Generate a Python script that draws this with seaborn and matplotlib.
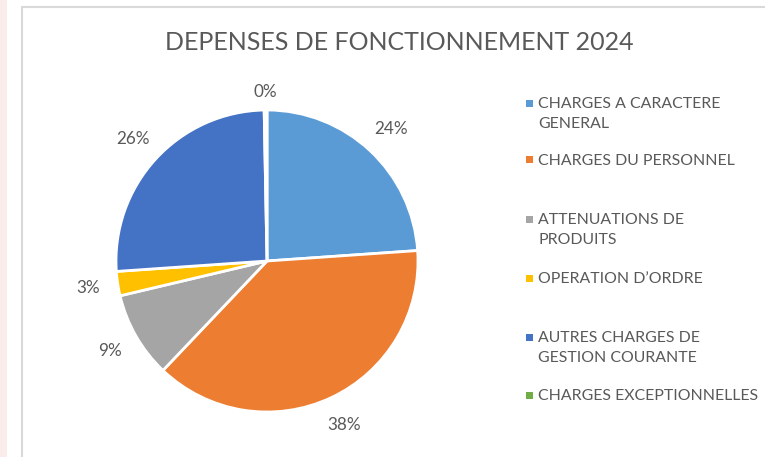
import matplotlib
matplotlib.use("Agg")
import matplotlib.pyplot as plt
import seaborn as sns
from matplotlib.patches import Rectangle

sns.set_theme(style="white")
plt.rcParams['font.family'] = ['Lato', 'DejaVu Sans']

# data (percent of total)
categories = [
    "CHARGES A CARACTERE\nGENERAL",
    "CHARGES DU PERSONNEL",
    "ATTENUATIONS DE\nPRODUITS",
    "OPERATION D\u2019ORDRE",
    "AUTRES CHARGES DE\nGESTION COURANTE",
    "CHARGES EXCEPTIONNELLES",
]
shares = [23.9, 38.2, 9.2, 2.6, 25.8, 0.3]
colors = ['#5B9BD5', '#ED7D31', '#A5A5A5', '#FFC000', '#4472C4', '#70AD47']
title = "DEPENSES DE FONCTIONNEMENT 2024"

W, H = 765, 457
fig = plt.figure(figsize=(W / 100, H / 100), dpi=100)
fig.patch.set_facecolor('white')

# spreadsheet strip on the left and chart border (behind the pie)
fig.patches.append(Rectangle((0, 0), 7 / W, 1, transform=fig.transFigure,
                             facecolor='#f9ecea', edgecolor='none', zorder=-2))
fig.patches.append(Rectangle((22 / W, -0.05), 1.0, (H - 7) / H + 0.05,
                             transform=fig.transFigure, facecolor='white',
                             edgecolor='#d9d9d9', linewidth=1.5, zorder=-1))

cx, cy, r = 267, 261, 151
ax = fig.add_axes([(cx - r) / W, (H - cy - r) / H, 2 * r / W, 2 * r / H])
ax.patch.set_visible(False)
wedges, texts, autotexts = ax.pie(
    shares, colors=colors, startangle=90, counterclock=False,
    autopct=lambda p: f"{p:.0f}%", pctdistance=1.2,
    wedgeprops=dict(edgecolor='white', linewidth=2),
    textprops=dict(color='#595959', fontsize=12.3),
)
# the tiny last slice's label sits a little closer, like Excel's best fit
px, py = autotexts[-1].get_position()
autotexts[-1].set_position((px * 0.93, py * 0.93))
ax.set_xlim(-1, 1)
ax.set_ylim(-1, 1)
ax.set_aspect('equal')
ax.axis('off')

fig.text(399 / W, 1 - 43 / H, title, ha='center', va='center',
         fontsize=18, color='#595959')

# legend, drawn by hand so the marker sits on the first line
ys = [103, 160, 219, 278, 337, 395]
for lab, col, y in zip(categories, colors, ys):
    fig.patches.append(Rectangle((526 / W, 1 - (y + 3.5) / H), 7 / W, 7 / H,
                                 transform=fig.transFigure, facecolor=col,
                                 edgecolor='none'))
    fig.text(538 / W, 1 - (y - 6) / H, lab, ha='left', va='top',
             fontsize=11.4, color='#595959', linespacing=1.5)

fig.savefig("out.png", dpi=100)
